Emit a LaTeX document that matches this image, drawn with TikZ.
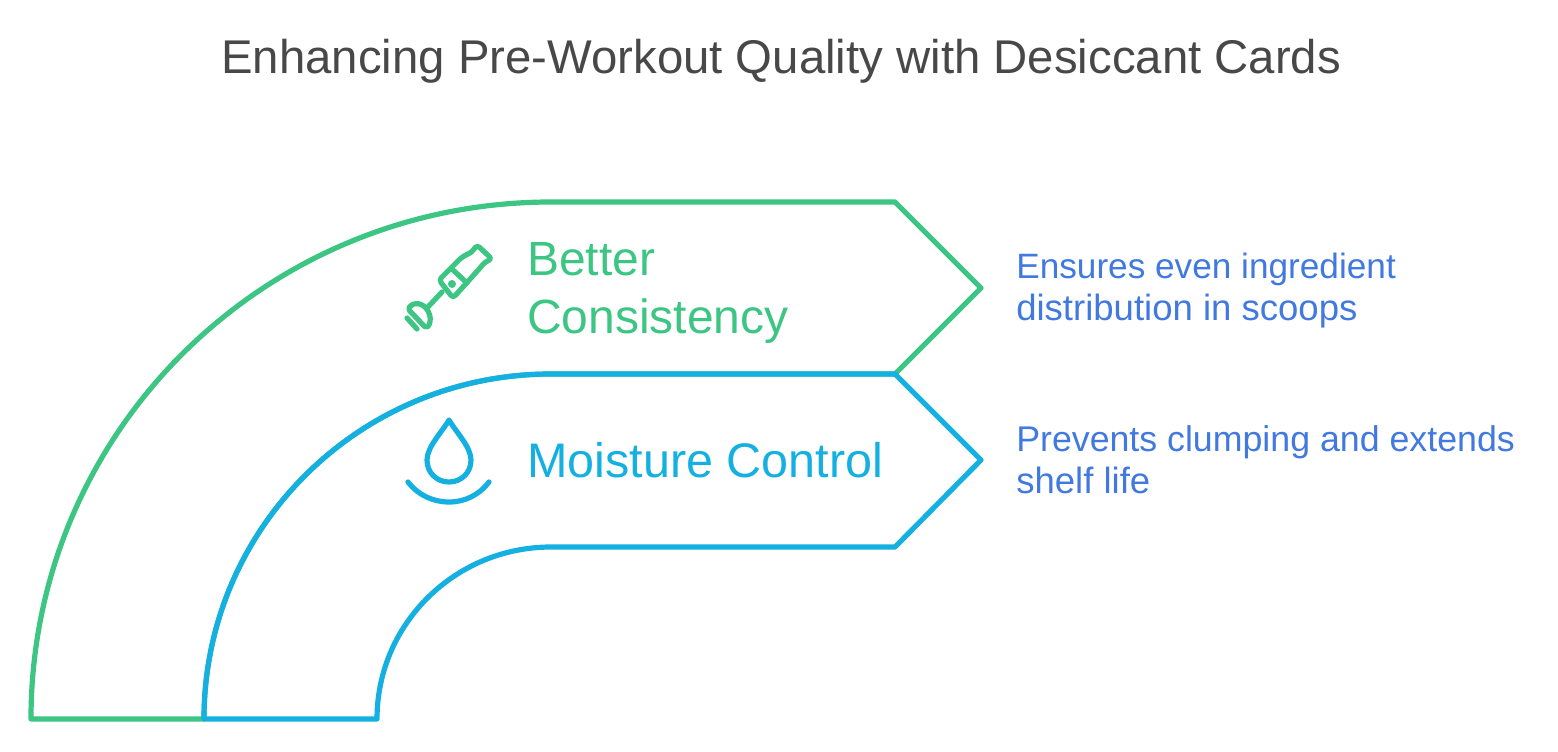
\documentclass[tikz,border=0pt]{standalone}
\usepackage{fontspec}
\setmainfont{Liberation Sans}
\definecolor{cardgreen}{HTML}{3CC583}
\definecolor{cardblue}{HTML}{14B0E2}
\definecolor{notesblue}{HTML}{4179E0}
\definecolor{titlegray}{HTML}{484848}
\begin{document}
\begin{tikzpicture}[x=0.75pt,y=-0.75pt]
\useasboundingbox (0,0) rectangle (1558,752);
\begin{scope}[line width=3.9pt,line join=round,line cap=round]
    \draw [cardgreen] (31,719) .. controls (31,432) and (264,202) .. (551,202)
        -- (895,202) -- (981,288) -- (895,374) -- (551,374)
        .. controls (359,374) and (204,528.5) .. (204,719) -- cycle;
    \draw [cardblue] (204,719) .. controls (204,528.5) and (359,374) .. (551,374)
        -- (895,374) -- (981,460) -- (895,547) -- (551,547)
        .. controls (455,547) and (377,624) .. (377,719) -- cycle;
\end{scope}
\begin{scope}[cardgreen,line width=3.9pt,line join=round,line cap=round]
    \draw [rounded corners=2.5pt] (477,245) -- (472,252) -- (462,257) -- (439,280) -- (453,298)
        -- (480,268) -- (485,262) -- (492,259) -- cycle;
    \draw (453,270) -- (467,283);
    \draw (442,292) -- (427,308);
    \draw [rounded corners=1.5pt] (408,309) .. controls (414,301) and (424,303) .. (429,313)
        .. controls (431,319) and (430,325) .. (426,328) -- cycle;
    \draw (407,318) -- (417,329);
    \fill (452,284) circle [radius=4];
\end{scope}
\begin{scope}[cardblue,line width=3.9pt,line join=round,line cap=round]
    \draw (449,420) .. controls (442,432) and (427,447) .. (427,460)
        .. controls (427,473) and (437,482) .. (449,482)
        .. controls (461,482) and (471,473) .. (471,460)
        .. controls (471,447) and (456,432) .. (449,420) -- cycle;
    \draw (408,482) .. controls (418,495) and (433,502) .. (449,502)
        .. controls (465,502) and (479,495) .. (489,482);
\end{scope}
\begin{scope}[every node/.style={anchor=base west,inner sep=0pt}]
    \node [titlegray,font=\fontsize{35.5pt}{42pt}\selectfont] (title) at (221,74) {Enhancing Pre-Workout Quality with Desiccant Cards};
    \node [cardgreen,font=\fontsize{36pt}{43pt}\selectfont] (better) at (527,275) {Better};
    \node [cardgreen,font=\fontsize{36pt}{43pt}\selectfont] (consistency) at (527,333) {Consistency};
    \node [cardblue,font=\fontsize{36.4pt}{43pt}\selectfont] (moisture) at (527,477) {Moisture Control};
    \node [notesblue,font=\fontsize{26.4pt}{31pt}\selectfont] (ensures) at (1016,278) {Ensures even ingredient};
    \node [notesblue,font=\fontsize{27.4pt}{31pt}\selectfont] (distribution) at (1016,320) {distribution in scoops};
    \node [notesblue,font=\fontsize{26.8pt}{31pt}\selectfont] (prevents) at (1016,451) {Prevents clumping and extends};
    \node [notesblue,font=\fontsize{27.4pt}{31pt}\selectfont] (shelf) at (1016,493) {shelf life};
\end{scope}
\end{tikzpicture}
\end{document}
